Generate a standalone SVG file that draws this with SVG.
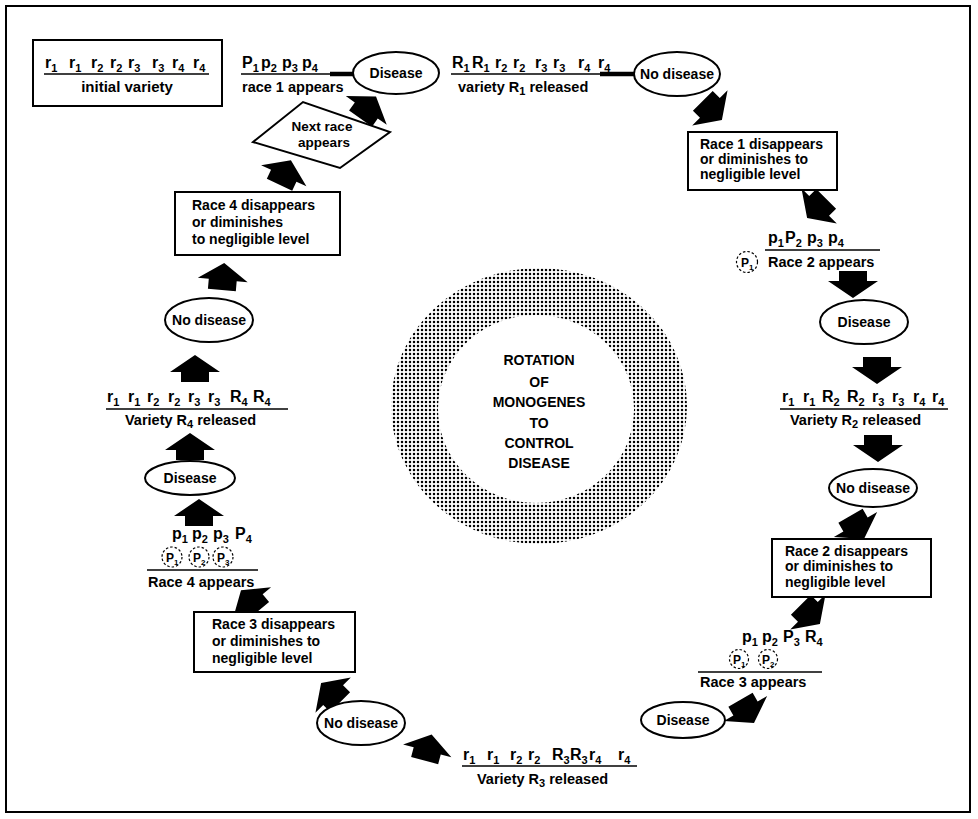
<svg xmlns="http://www.w3.org/2000/svg" width="978" height="819" viewBox="0 0 978 819">
<defs>
<style>
text{font-family:"Liberation Sans",Arial,sans-serif;font-weight:bold;fill:#000}
.frame{fill:#fff;stroke:#000;stroke-width:2}
.box{fill:#fff;stroke:#000;stroke-width:2}
.el{fill:#fff;stroke:#000;stroke-width:2}
.ln{stroke:#000;stroke-width:1.6;fill:none}
.thk{stroke:#000;stroke-width:4.5;fill:none}
.g{font-size:16px}
.s{font-size:11px}
.lbl{font-size:14.5px}
.bt{font-size:14px}
.et{font-size:14px;text-anchor:middle}
.dc{fill:none;stroke:#000;stroke-width:1.2;stroke-dasharray:2.5 2}
.cp{font-size:12px}
.cs{font-size:8px}
.ct{font-size:14px;text-anchor:middle}
.arr{fill:#000}
</style>
<pattern id="dots" width="4" height="4" patternUnits="userSpaceOnUse"><circle cx="2" cy="2" r="1.25" fill="#000"/></pattern>
<path id="ar" d="M0,-14 L25,3 L14,3 L14,13 L-14,13 L-14,3 L-25,3 Z"/>
</defs>
<rect class="frame" x="6" y="6" width="964" height="806"/>

<g id="ring">
<path d="M391,406 a148,138 0 1,0 296,0 a148,138 0 1,0 -296,0 Z M438,409 a98,94 0 1,0 196,0 a98,94 0 1,0 -196,0 Z" fill="url(#dots)" fill-rule="evenodd"/>
<text class="ct" x="539" y="365">ROTATION</text>
<text class="ct" x="539" y="387">OF</text>
<text class="ct" x="539" y="407">MONOGENES</text>
<text class="ct" x="539" y="428">TO</text>
<text class="ct" x="539" y="448">CONTROL</text>
<text class="ct" x="539" y="468">DISEASE</text>
</g>

<g id="connectors">
<line class="ln" x1="241" y1="74" x2="332" y2="74"/>
<line class="thk" x1="330" y1="74" x2="354" y2="74"/>
<line class="ln" x1="451" y1="74" x2="602" y2="74"/>
<line class="thk" x1="600" y1="74" x2="635" y2="74"/>
<use href="#ar" class="arr" transform="translate(368,108) rotate(35)"/>
<use href="#ar" class="arr" transform="translate(712,110) rotate(135)"/>
<use href="#ar" class="arr" transform="translate(817,208) rotate(225)"/>
<use href="#ar" class="arr" transform="translate(853,284) rotate(180)"/>
<use href="#ar" class="arr" transform="translate(877,370) rotate(180)"/>
<use href="#ar" class="arr" transform="translate(878,448) rotate(180)"/>
<use href="#ar" class="arr" transform="translate(857,527) rotate(150)"/>
<use href="#ar" class="arr" transform="translate(810,614) rotate(135)"/>
<use href="#ar" class="arr" transform="translate(747,711) rotate(150)"/>
<use href="#ar" class="arr" transform="translate(428,748) rotate(15)"/>
<use href="#ar" class="arr" transform="translate(331,693) rotate(-45)"/>
<use href="#ar" class="arr" transform="translate(250,601) rotate(-40)"/>
<use href="#ar" class="arr" transform="translate(199,513)"/>
<use href="#ar" class="arr" transform="translate(190,447)"/>
<use href="#ar" class="arr" transform="translate(195,369)"/>
<use href="#ar" class="arr" transform="translate(223,277) rotate(5)"/>
<use href="#ar" class="arr" transform="translate(285,173) rotate(25)"/>
</g>

<g id="initial-variety">
<rect class="box" x="33" y="40" width="189" height="66"/>
<text class="g"><tspan x="45" y="68">r</tspan><tspan class="s" y="72">1</tspan><tspan x="69" y="68">r</tspan><tspan class="s" y="72">1</tspan><tspan x="91" y="68">r</tspan><tspan class="s" y="72">2</tspan><tspan x="110" y="68">r</tspan><tspan class="s" y="72">2</tspan><tspan x="128" y="68">r</tspan><tspan class="s" y="72">3</tspan><tspan x="152" y="68">r</tspan><tspan class="s" y="72">3</tspan><tspan x="172" y="68">r</tspan><tspan class="s" y="72">4</tspan><tspan x="193" y="68">r</tspan><tspan class="s" y="72">4</tspan></text>
<line class="ln" x1="44" y1="74" x2="209" y2="74"/>
<text x="127" y="92" font-size="15" text-anchor="middle">initial variety</text>
</g>

<g id="race1-appears">
<text class="g"><tspan x="242" y="68">P</tspan><tspan class="s" y="72">1</tspan><tspan x="261" y="68">p</tspan><tspan class="s" y="72">2</tspan><tspan x="282" y="68">p</tspan><tspan class="s" y="72">3</tspan><tspan x="302" y="68">p</tspan><tspan class="s" y="72">4</tspan></text>
<text class="lbl" x="242" y="92">race 1 appears</text>
</g>

<g id="disease-top">
<ellipse class="el" cx="396" cy="73" rx="43" ry="21"/>
<text class="et" x="396" y="78">Disease</text>
</g>

<g id="variety-r1">
<text class="g"><tspan x="452" y="68">R</tspan><tspan class="s" y="72">1</tspan><tspan x="472" y="68">R</tspan><tspan class="s" y="72">1</tspan><tspan x="495" y="68">r</tspan><tspan class="s" y="72">2</tspan><tspan x="513" y="68">r</tspan><tspan class="s" y="72">2</tspan><tspan x="535" y="68">r</tspan><tspan class="s" y="72">3</tspan><tspan x="553" y="68">r</tspan><tspan class="s" y="72">3</tspan><tspan x="578" y="68">r</tspan><tspan class="s" y="72">4</tspan><tspan x="598" y="68">r</tspan><tspan class="s" y="72">4</tspan></text>
<text class="lbl" x="458" y="92">variety R<tspan class="s" y="95">1</tspan><tspan y="92"> released</tspan></text>
</g>

<g id="nodisease-top">
<ellipse class="el" cx="677" cy="74" rx="43" ry="22"/>
<text class="et" x="677" y="79">No disease</text>
</g>

<g id="race1-disappears">
<rect class="box" x="688" y="132" width="149" height="58"/>
<text class="bt" x="700" y="149">Race 1 disappears</text>
<text class="bt" x="700" y="164">or diminishes to</text>
<text class="bt" x="700" y="179">negligible level</text>
</g>

<g id="race2-appears">
<text class="g"><tspan x="768" y="243">p</tspan><tspan class="s" y="247">1</tspan><tspan x="785" y="243">P</tspan><tspan class="s" y="247">2</tspan><tspan x="807" y="243">p</tspan><tspan class="s" y="247">3</tspan><tspan x="828" y="243">p</tspan><tspan class="s" y="247">4</tspan></text>
<line class="ln" x1="765" y1="250" x2="880" y2="250"/>
<circle class="dc" cx="747" cy="262" r="10.5"/>
<text class="cp"><tspan x="741" y="267">P</tspan><tspan class="cs" y="270">1</tspan></text>
<text class="lbl" x="768" y="267">Race 2 appears</text>
</g>

<g id="disease-right">
<ellipse class="el" cx="864" cy="322" rx="44" ry="22"/>
<text class="et" x="864" y="327">Disease</text>
</g>

<g id="variety-r2">
<text class="g"><tspan x="782" y="402">r</tspan><tspan class="s" y="406">1</tspan><tspan x="803" y="402">r</tspan><tspan class="s" y="406">1</tspan><tspan x="822" y="402">R</tspan><tspan class="s" y="406">2</tspan><tspan x="847" y="402">R</tspan><tspan class="s" y="406">2</tspan><tspan x="872" y="402">r</tspan><tspan class="s" y="406">3</tspan><tspan x="892" y="402">r</tspan><tspan class="s" y="406">3</tspan><tspan x="913" y="402">r</tspan><tspan class="s" y="406">4</tspan><tspan x="932" y="402">r</tspan><tspan class="s" y="406">4</tspan></text>
<line class="ln" x1="780" y1="409" x2="948" y2="409"/>
<text class="lbl" x="790" y="425">Variety R<tspan class="s" y="428">2</tspan><tspan y="425"> released</tspan></text>
</g>

<g id="nodisease-right">
<ellipse class="el" cx="873" cy="488" rx="44" ry="19"/>
<text class="et" x="873" y="493">No disease</text>
</g>

<g id="race2-disappears">
<rect class="box" x="772" y="539" width="159" height="58"/>
<text class="bt" x="785" y="556">Race 2 disappears</text>
<text class="bt" x="785" y="571">or diminishes to</text>
<text class="bt" x="785" y="587">negligible level</text>
</g>

<g id="race3-appears">
<text class="g"><tspan x="742" y="642">p</tspan><tspan class="s" y="646">1</tspan><tspan x="762" y="642">p</tspan><tspan class="s" y="646">2</tspan><tspan x="783" y="642">P</tspan><tspan class="s" y="646">3</tspan><tspan x="805" y="642">R</tspan><tspan class="s" y="646">4</tspan></text>
<circle class="dc" cx="739" cy="659" r="9.5"/>
<text class="cp"><tspan x="733" y="664">P</tspan><tspan class="cs" y="667">1</tspan></text>
<circle class="dc" cx="768" cy="659" r="9.5"/>
<text class="cp"><tspan x="762" y="664">P</tspan><tspan class="cs" y="667">2</tspan></text>
<line class="ln" x1="698" y1="672" x2="822" y2="672"/>
<text class="lbl" x="700" y="687">Race 3 appears</text>
</g>

<g id="disease-bottom">
<ellipse class="el" cx="683" cy="720" rx="42" ry="18"/>
<text class="et" x="683" y="725">Disease</text>
</g>

<g id="variety-r3">
<text class="g"><tspan x="463" y="760">r</tspan><tspan class="s" y="764">1</tspan><tspan x="487" y="760">r</tspan><tspan class="s" y="764">1</tspan><tspan x="510" y="760">r</tspan><tspan class="s" y="764">2</tspan><tspan x="528" y="760">r</tspan><tspan class="s" y="764">2</tspan><tspan x="552" y="760">R</tspan><tspan class="s" y="764">3</tspan><tspan x="570" y="760">R</tspan><tspan class="s" y="764">3</tspan><tspan x="589" y="760">r</tspan><tspan class="s" y="764">4</tspan><tspan x="618" y="760">r</tspan><tspan class="s" y="764">4</tspan></text>
<line class="ln" x1="462" y1="766" x2="637" y2="766"/>
<text class="lbl" x="477" y="784">Variety R<tspan class="s" y="787">3</tspan><tspan y="784"> released</tspan></text>
</g>

<g id="nodisease-bottom">
<ellipse class="el" cx="361" cy="723" rx="44" ry="22"/>
<text class="et" x="361" y="728">No disease</text>
</g>

<g id="race3-disappears">
<rect class="box" x="194" y="612" width="161" height="60"/>
<text class="bt" x="212" y="629">Race 3 disappears</text>
<text class="bt" x="212" y="646">or diminishes to</text>
<text class="bt" x="212" y="663">negligible level</text>
</g>

<g id="race4-appears">
<text class="g"><tspan x="172" y="539">p</tspan><tspan class="s" y="543">1</tspan><tspan x="192" y="539">p</tspan><tspan class="s" y="543">2</tspan><tspan x="213" y="539">p</tspan><tspan class="s" y="543">3</tspan><tspan x="235" y="539">P</tspan><tspan class="s" y="543">4</tspan></text>
<circle class="dc" cx="172" cy="557" r="10"/>
<text class="cp"><tspan x="166" y="562">P</tspan><tspan class="cs" y="565">1</tspan></text>
<circle class="dc" cx="199" cy="557" r="10"/>
<text class="cp"><tspan x="193" y="562">P</tspan><tspan class="cs" y="565">2</tspan></text>
<circle class="dc" cx="223" cy="557" r="10"/>
<text class="cp"><tspan x="217" y="562">P</tspan><tspan class="cs" y="565">3</tspan></text>
<line class="ln" x1="147" y1="570" x2="258" y2="570"/>
<text class="lbl" x="148" y="587">Race 4 appears</text>
</g>

<g id="disease-left">
<ellipse class="el" cx="190" cy="478" rx="45" ry="17"/>
<text class="et" x="190" y="483">Disease</text>
</g>

<g id="variety-r4">
<text class="g"><tspan x="107" y="402">r</tspan><tspan class="s" y="406">1</tspan><tspan x="128" y="402">r</tspan><tspan class="s" y="406">1</tspan><tspan x="147" y="402">r</tspan><tspan class="s" y="406">2</tspan><tspan x="168" y="402">r</tspan><tspan class="s" y="406">2</tspan><tspan x="188" y="402">r</tspan><tspan class="s" y="406">3</tspan><tspan x="208" y="402">r</tspan><tspan class="s" y="406">3</tspan><tspan x="230" y="402">R</tspan><tspan class="s" y="406">4</tspan><tspan x="253" y="402">R</tspan><tspan class="s" y="406">4</tspan></text>
<line class="ln" x1="106" y1="409" x2="288" y2="409"/>
<text class="lbl" x="125" y="425">Variety  R<tspan class="s" y="428">4</tspan><tspan y="425"> released</tspan></text>
</g>

<g id="nodisease-left">
<ellipse class="el" cx="209" cy="320" rx="44" ry="22"/>
<text class="et" x="209" y="325">No disease</text>
</g>

<g id="race4-disappears">
<rect class="box" x="175" y="192" width="165" height="63"/>
<text class="bt" x="192" y="210">Race 4 disappears</text>
<text class="bt" x="192" y="227">or diminishes</text>
<text class="bt" x="192" y="244">to negligible level</text>
</g>

<g id="next-race">
<polygon class="box" points="253,142 303,102 390,132 340,168"/>
<text x="322" y="131" font-size="13.5" text-anchor="middle">Next race</text>
<text x="324" y="147" font-size="13.5" text-anchor="middle">appears</text>
</g>
</svg>
